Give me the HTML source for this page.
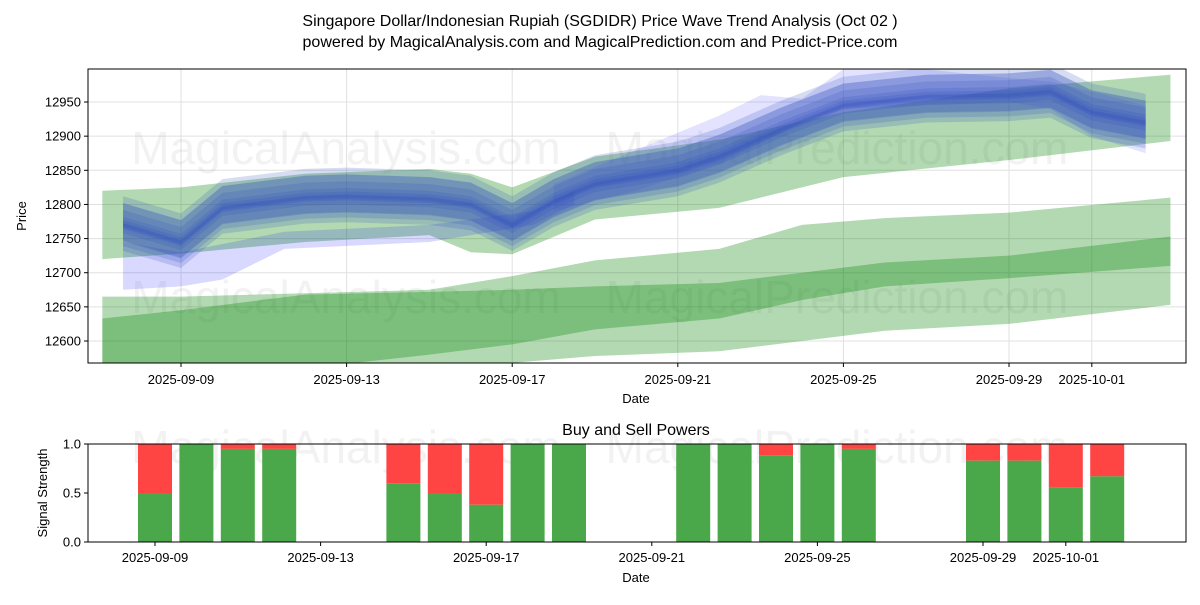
<!DOCTYPE html>
<html><head><meta charset="utf-8">
<style>
body{margin:0;background:#fff;}
svg text{font-family:"Liberation Sans",sans-serif;fill:#000;}
</style></head>
<body>
<svg id="chart" width="1200" height="600" xmlns="http://www.w3.org/2000/svg">
<text x="600" y="26" font-size="16" text-anchor="middle">Singapore Dollar/Indonesian Rupiah (SGDIDR) Price Wave Trend Analysis (Oct 02 )</text>
<text x="600" y="47" font-size="16" text-anchor="middle">powered by MagicalAnalysis.com and MagicalPrediction.com and Predict-Price.com</text>
<g id="topPanel"></g>
<g id="botPanel"></g>
</svg>
<script>
// ---- data ----
const tickDays = [0,4,8,12,16,20,22];
const tickLabels = ["2025-09-09","2025-09-13","2025-09-17","2025-09-21","2025-09-25","2025-09-29","2025-10-01"];
const priceTicks = [12600,12650,12700,12750,12800,12850,12900,12950];
const g1Days  = [-1.9, 0, 3, 6, 7, 8, 10, 13, 16, 20, 23.9];
const g1Upper = [12820,12825,12845,12852,12845,12825,12870,12895,12935,12970,12990];
const g1Lower = [12720,12728,12745,12755,12730,12727,12778,12795,12840,12865,12893];
const g2Days  = [-1.9, 0, 3, 6, 8, 10, 13, 15, 17, 20, 23.9];
const g2Upper = [12665,12665,12670,12675,12695,12718,12735,12770,12780,12788,12810];
const g2Lower = [12520,12530,12545,12555,12568,12578,12585,12600,12615,12625,12653];
const g3Days  = [-1.9, 0, 3, 6, 8, 10, 13, 15, 17, 20, 23.9];
const g3Upper = [12633,12645,12668,12672,12675,12680,12685,12700,12715,12725,12753];
const g3Lower = [12520,12530,12560,12580,12595,12617,12633,12660,12680,12692,12710];
const bDays   = [-1.4, 0, 1, 3, 4, 6, 7, 8, 9, 10, 12, 13, 14.5, 16, 18, 20, 21, 22, 23.3];
const bCenter = [12770,12745,12795,12810,12812,12808,12800,12770,12805,12830,12850,12870,12910,12945,12958,12960,12965,12935,12920];
const bOffsets = [0, 8, -8, 14, -14, 20, -18, 4];
const bHalf    = [12, 14, 15, 18, 17, 22, 20, 28];
const bLowDays  = [-1.4, 0, 1, 2.5, 6, 8.5, 9.5];
const bLowUpper = [12745,12730,12742,12760,12770,12790,12820];
const bLowLower = [12675,12680,12690,12735,12745,12770,12800];
const bHighDays  = [9, 11, 13, 14, 15, 16, 18, 20, 21, 22, 23.3];
const bHighUpper = [12830,12880,12930,12960,12955,12998,12998,12985,12980,12965,12945];
const bHighLower = [12790,12820,12860,12890,12920,12940,12945,12950,12940,12900,12875];
const barDays = [0,1,2,3,6,7,8,9,10,13,14,15,16,17,20,21,22,23];
const buyVals = [0.5,1,0.95,0.95,0.6,0.5,0.38,1,1,1,1,0.88,1,0.95,0.83,0.83,0.56,0.67];
const sigTicks = [0,0.5,1];

const NS="http://www.w3.org/2000/svg";
function mk(tag,attrs,parent){const e=document.createElementNS(NS,tag);for(const k in attrs)e.setAttribute(k,attrs[k]);parent.appendChild(e);return e;}
const topG=document.getElementById('topPanel'), botG=document.getElementById('botPanel');
const TL=88,TR=1186,TT=69,TB=363;
const xT=d=>181+d*41.4;
const yT=v=>341-(v-12600)*34.14/50;
const BT=444,BB=542;
const xB=d=>155+d*41.4;
const yB=v=>BB-v*98;

const cp=mk('clipPath',{id:'ct'},topG);
mk('rect',{x:TL,y:TT,width:TR-TL,height:TB-TT},cp);

tickDays.forEach((d,i)=>{
 const l=mk('line',{x1:xT(d),x2:xT(d),y1:TT,y2:TB,stroke:'#e0e0e0','stroke-width':1},topG);
 
 
 mk('line',{x1:xT(d),x2:xT(d),y1:TB,y2:TB+4,stroke:'#000'},topG);
 const t=mk('text',{x:xT(d),y:TB+21,'font-size':13,'text-anchor':'middle'},topG);t.textContent=tickLabels[i];
 
 
});
priceTicks.forEach(v=>{
 mk('line',{x1:TL,x2:TR,y1:yT(v),y2:yT(v),stroke:'#e0e0e0'},topG);
 mk('line',{x1:TL-4,x2:TL,y1:yT(v),y2:yT(v),stroke:'#000'},topG);
 const t=mk('text',{x:TL-7,y:yT(v)+4.5,'font-size':13,'text-anchor':'end'},topG);t.textContent=v;
 
 
});
[['MagicalAnalysis.com',346,164],['MagicalPrediction.com',837,164],['MagicalAnalysis.com',346,313],['MagicalPrediction.com',837,313]].forEach(w=>{
 const t=mk('text',{x:w[1],y:w[2],'font-size':46,'text-anchor':'middle',style:'fill:#999;opacity:0.12'},topG);t.textContent=w[0];
 
 
});
const g=mk('g',{'clip-path':'url(#ct)'},topG);
function band(days,up,lo,fill,op,name){
 let p=days.map((d,i)=>xT(d)+','+yT(up[i]));
 for(let i=days.length-1;i>=0;i--)p.push(xT(days[i])+','+yT(lo[i]));
 const e=mk('polygon',{points:p.join(' '),fill:fill,'fill-opacity':op},g);
 
 
}
band(g1Days,g1Upper,g1Lower,'#008000',0.3,'green-band-upper');
band(g2Days,g2Upper,g2Lower,'#008000',0.3,'green-band-middle');
band(g3Days,g3Upper,g3Lower,'#008000',0.3,'green-band-lower');
band(bLowDays,bLowUpper,bLowLower,'#0000ff',0.15,'blue-band-low');
band(bHighDays,bHighUpper,bHighLower,'#4040ff',0.15,'blue-band-high');
bOffsets.forEach((o,k)=>{
 band(bDays,bCenter.map(c=>c+o+bHalf[k]),bCenter.map(c=>c+o-bHalf[k]),'#3050c0',0.2,'blue-wave-band');
});
mk('rect',{x:TL,y:TT,width:TR-TL,height:TB-TT,fill:'none',stroke:'#000','stroke-width':1},topG);
let t=mk('text',{x:636,y:403,'font-size':13,'text-anchor':'middle'},topG);t.textContent='Date';


t=mk('text',{x:26,y:216,'font-size':13,'text-anchor':'middle',transform:'rotate(-90 26 216)'},topG);t.textContent='Price';



t=mk('text',{x:636,y:435,'font-size':16,'text-anchor':'middle'},botG);t.textContent='Buy and Sell Powers';


[['MagicalAnalysis.com',346,463],['MagicalPrediction.com',837,463]].forEach(w=>{
 const tt=mk('text',{x:w[1],y:w[2],'font-size':46,'text-anchor':'middle',style:'fill:#999;opacity:0.12'},botG);tt.textContent=w[0];
 
 
});
barDays.forEach((d,i)=>{
 const x=xB(d)-17,w=34;
 const r1=mk('rect',{x:x,y:yB(1),width:w,height:yB(buyVals[i])-yB(1),fill:'#ff4444'},botG);
 
 
 const r2=mk('rect',{x:x,y:yB(buyVals[i]),width:w,height:BB-yB(buyVals[i]),fill:'#4aa84a'},botG);
 
 
});
tickDays.forEach((d,i)=>{
 mk('line',{x1:xB(d),x2:xB(d),y1:BB,y2:BB+4,stroke:'#000'},botG);
 const tt=mk('text',{x:xB(d),y:BB+20,'font-size':13,'text-anchor':'middle'},botG);tt.textContent=tickLabels[i];
 
 
});
sigTicks.forEach(v=>{
 mk('line',{x1:TL-4,x2:TL,y1:yB(v),y2:yB(v),stroke:'#000'},botG);
 const tt=mk('text',{x:TL-7,y:yB(v)+4.5,'font-size':13,'text-anchor':'end'},botG);tt.textContent=v.toFixed(1);
 
 
});
mk('rect',{x:TL,y:BT,width:TR-TL,height:BB-BT,fill:'none',stroke:'#000'},botG);
t=mk('text',{x:636,y:582,'font-size':13,'text-anchor':'middle'},botG);t.textContent='Date';


t=mk('text',{x:47,y:493,'font-size':13,'text-anchor':'middle',transform:'rotate(-90 47 493)'},botG);t.textContent='Signal Strength';


</script>
</body></html>
